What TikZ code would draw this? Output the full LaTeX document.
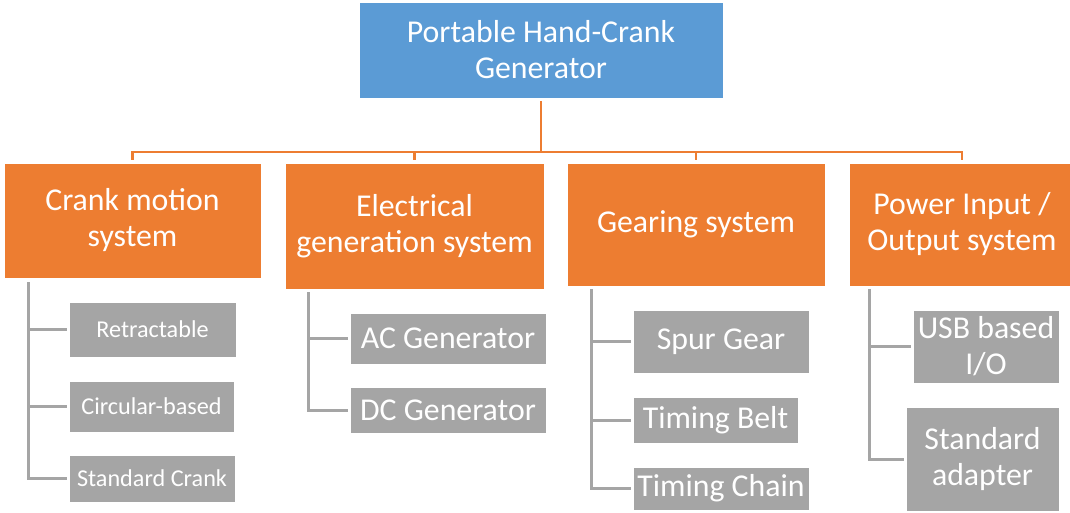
\documentclass[tikz,border=0pt]{standalone}
\usepackage{fontspec}
\setmainfont{Carlito}
\definecolor{topblue}{HTML}{5B9BD5}
\definecolor{orng}{HTML}{ED7D31}
\definecolor{gry}{HTML}{A5A5A5}
\begin{document}
\begin{tikzpicture}[x=1pt,y=-1pt,
  box/.style={draw=white,line width=0.8pt,text=white,align=center,inner sep=0pt,
    font=\fontsize{31.8}{36}\selectfont},
  rootbox/.style={box,fill=topblue},
  catbox/.style={box,fill=orng},
  itembox/.style={box,fill=gry},
  smallitem/.style={itembox,font=\fontsize{24.2}{28}\selectfont},
  oline/.style={draw=orng,line width=2.6pt},
  gline/.style={draw=gry,line width=3pt}]
\useasboundingbox (0,0) rectangle (1070,513);
% root
\node[rootbox,minimum width=364pt,minimum height=96pt] (root) at (541,50) {Portable Hand-Crank\\Generator};
% categories
\node[catbox,minimum width=257pt,minimum height=115pt] (crank) at (132.5,220.5) {Crank motion\\system};
\node[catbox,minimum width=259pt,minimum height=126pt] (elec) at (414.5,226) {Electrical\\generation system};
\node[catbox,minimum width=258pt,minimum height=123pt] (gear) at (696,224.5) {Gearing system};
\node[catbox,minimum width=226pt,minimum height=123pt] (power) at (962,224.5) {Power Input /\\Output system};
% crank items
\node[smallitem,minimum width=167pt,minimum height=55pt] (ret) at (152.5,329.5) {Retractable};
\node[smallitem,minimum width=165pt,minimum height=51pt] (circ) at (151.5,406.5) {Circular-based};
\node[smallitem,minimum width=166pt,minimum height=47pt] (std) at (152,478.5) {Standard Crank};
% electrical items
\node[itembox,minimum width=196pt,minimum height=51pt] (ac) at (448,338.5) {AC Generator};
\node[itembox,minimum width=196pt,minimum height=46pt] (dc) at (448,410) {DC Generator};
% gearing items
\node[itembox,minimum width=176pt,minimum height=63pt] (spur) at (721,341.5) {Spur Gear};
\node[itembox,minimum width=165pt,minimum height=46pt] (belt) at (715.5,420) {Timing Belt};
\node[itembox,minimum width=176pt,minimum height=43pt] (chain) at (721,488.5) {Timing Chain};
% power items
\node[itembox,minimum width=146pt,minimum height=73pt] (usb) at (986,346.5) {USB based\\I/O};
\node[itembox,minimum width=153pt,minimum height=104pt] (adapt) at (982.5,459) {Standard\\adapter};
% orange tree
\coordinate (bus) at (541,152);
\draw[oline,shorten <=3pt] (root.south) -- (bus);
\draw[oline,shorten >=3pt] (bus) -| (crank.north);
\draw[oline,shorten >=3pt] (bus) -| (elec.north);
\draw[oline,shorten >=3pt] (bus) -| (gear.north);
\draw[oline,shorten >=3pt] (bus) -| (power.north);
% gray branches
\draw[gline,shorten >=2pt] ([xshift=25pt,yshift=-4pt]crank.south west) |- (std.west);
\draw[gline,shorten >=2pt] ([xshift=25pt]crank.south west |- ret.west) -- (ret.west);
\draw[gline,shorten >=2pt] ([xshift=25pt]crank.south west |- circ.west) -- (circ.west);
\draw[gline,shorten >=2pt] ([xshift=24pt,yshift=-3pt]elec.south west) |- (dc.west);
\draw[gline,shorten >=2pt] ([xshift=24pt]elec.south west |- ac.west) -- (ac.west);
\draw[gline,shorten >=2pt] ([xshift=25pt,yshift=-3pt]gear.south west) |- (chain.west);
\draw[gline,shorten >=2pt] ([xshift=25pt]gear.south west |- spur.west) -- (spur.west);
\draw[gline,shorten >=2pt] ([xshift=25pt]gear.south west |- belt.west) -- (belt.west);
\draw[gline,shorten >=2pt] ([xshift=21pt,yshift=-3pt]power.south west) |- (adapt.west);
\draw[gline,shorten >=2pt] ([xshift=21pt]power.south west |- usb.west) -- (usb.west);
\end{tikzpicture}
\end{document}
